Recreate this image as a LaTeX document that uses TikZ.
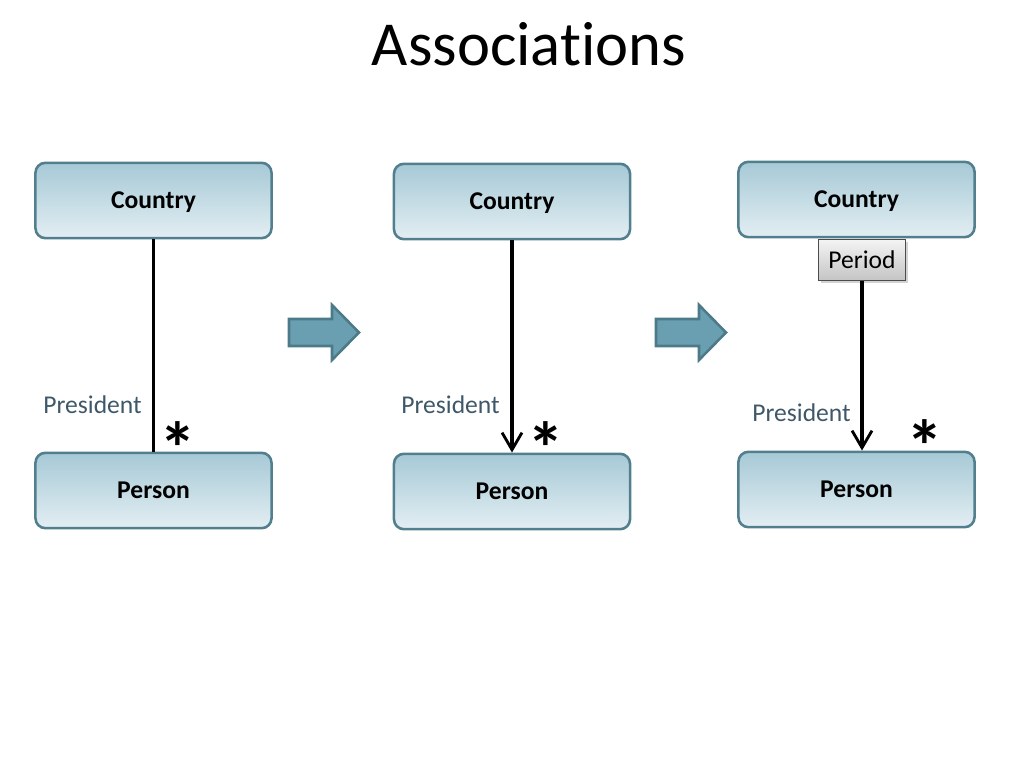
\documentclass[tikz,border=0pt]{standalone}
\usepackage{fontspec}
\setmainfont{Carlito}[Ligatures=NoCommon]
\usetikzlibrary{arrows.meta,shadows}
\definecolor{BoxTop}{HTML}{A6C9D6}
\definecolor{BoxBottom}{HTML}{E3EEF3}
\definecolor{BoxLine}{HTML}{527F8E}
\definecolor{ArrowFill}{HTML}{6A9FB1}
\definecolor{ArrowLine}{HTML}{4C7A88}
\definecolor{RoleText}{HTML}{3F5869}
\definecolor{QualTop}{HTML}{F4F4F4}
\definecolor{QualBottom}{HTML}{C4C4C4}

\begin{document}
\begin{tikzpicture}[x=0.703125pt,y=-0.703125pt,>={Straight Barb[length=12pt,width=14pt,line width=2pt]}]
    \tikzset{
      classbox/.style={draw=BoxLine,line width=1.8pt,rounded corners=7pt,
        top color=BoxTop,bottom color=BoxBottom,
        minimum width=166pt,minimum height=53pt,align=center,text depth=0pt,
        font=\fontsize{18}{20}\selectfont\bfseries},
      qualifier/.style={draw=black!70,line width=0.6pt,top color=QualTop,bottom color=QualBottom,
        minimum width=61pt,minimum height=29pt,inner sep=0pt,
        font=\fontsize{18}{20}\selectfont,drop shadow={opacity=0.35,shadow xshift=1.5pt,shadow yshift=-1.5pt}},
      rolelabel/.style={text=RoleText,font=\fontsize{18}{20}\selectfont,inner sep=0pt},
      mult/.style={font=\fontsize{52}{52}\selectfont\bfseries,inner sep=0pt,
        text height=0.5em,text depth=0pt},
      assoc/.style={line width=2.6pt},
      bigarrow/.style={draw=ArrowLine,line width=1.8pt,fill=ArrowFill,line join=miter}
    }
    \useasboundingbox (0,0) rectangle (1024,768);
    \node[font=\fontsize{44}{48}\selectfont] (title) at (529,44) {Associations};
    % first step
    \node[classbox] (country1) at (153.5,200.5) {Country};
    \node[classbox] (person1) at (153.5,490.5) {Person};
    \draw[assoc] (country1.south) -- (person1.north);
    \node[rolelabel,anchor=east] (role1) at (142,405) {President};
    \node[mult] (mult1) at (178,434) {\raisebox{-0.5em}{*}};
    % second step
    \node[classbox] (country2) at (512,201.5) {Country};
    \node[classbox] (person2) at (512,491.5) {Person};
    \draw[assoc,->] (country2.south) -- (person2.north);
    \node[rolelabel,anchor=east] (role2) at (500,405) {President};
    \node[mult] (mult2) at (546,434) {\raisebox{-0.5em}{*}};
    % third step
    \node[classbox] (country3) at (856.5,199.5) {Country};
    \node[classbox] (person3) at (856.5,489.5) {Person};
    \node[qualifier] (period) at (862,260) {Period};
    \draw[assoc,->] (period.south) -- (period.south |- person3.north);
    \node[rolelabel,anchor=east] (role3) at (851,413) {President};
    \node[mult] (mult3) at (925,432) {\raisebox{-0.5em}{*}};
    % arrows between steps
    \draw[bigarrow] (289,319) -- (332,319) -- (332,305) -- (359,332.5) -- (332,360) -- (332,346) -- (289,346) -- cycle;
    \draw[bigarrow] (656,319) -- (699,319) -- (699,305) -- (726,332.5) -- (699,360) -- (699,346) -- (656,346) -- cycle;
  \end{tikzpicture}
\end{document}
